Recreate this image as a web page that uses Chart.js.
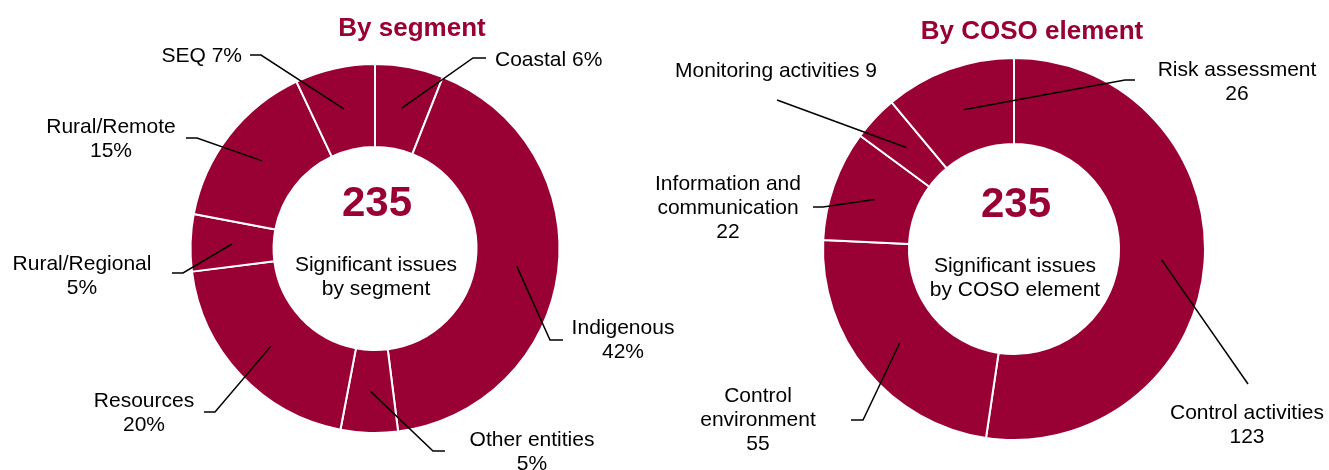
<!DOCTYPE html>
<html>
<head>
<meta charset="utf-8">
<script src="https://cdn.jsdelivr.net/npm/chart.js@4.4.0/dist/chart.umd.min.js"></script>
<style>
  html, body { margin: 0; padding: 0; background: #fff; }
  #wrap { position: relative; width: 1329px; height: 470px; overflow: hidden; }
  #wrap canvas { position: absolute; left: 0; top: 0; }
</style>
</head>
<body>
<div id="wrap">
  <canvas id="segChart" width="1329" height="470"></canvas>
  <canvas id="cosoChart" width="1329" height="470"></canvas>
</div>
<script>
// issues by segment (share of total, %)
const segmentNames = ['Coastal', 'Indigenous', 'Other entities', 'Resources', 'Rural/Regional', 'Rural/Remote', 'SEQ'];
const segmentShares = [6, 42, 5, 20, 5, 15, 7];

// issues by COSO element (count)
const cosoNames = ['Control activities', 'Control environment', 'Information and communication', 'Monitoring activities', 'Risk assessment'];
const cosoCounts = [123, 55, 22, 9, 26];

const totalIssues = 235;

const WINE = '#990033';
const FONT = "'Liberation Sans', Arial, sans-serif";
const LINE_H = 24;

// where each callout sits: text anchor, horizontal stub (a -> b), then a line into the slice
const segLayout = [
  { x: 495, y: 60,  align: 'left',   inline: true, a: [486, 58],  b: [473, 58] },
  { x: 623, y: 328, align: 'center', a: [563, 340], b: [550, 340] },
  { x: 532, y: 440, align: 'center', a: [445, 451], b: [433, 451] },
  { x: 144, y: 401, align: 'center', a: [204, 412], b: [215, 412] },
  { x: 82,  y: 264, align: 'center', a: [172, 273], b: [183, 273] },
  { x: 111, y: 127, align: 'center', a: [186, 138], b: [197, 138] },
  { x: 242, y: 56,  align: 'right',  inline: true, a: [250, 55],  b: [261, 55] }
];

const cosoLayout = [
  { x: 1247, y: 413, align: 'center', a: [1248, 384], b: [1248, 384] },
  { x: 758,  y: 396, align: 'center', wrap: ['Control', 'environment'], a: [851, 420], b: [863, 420] },
  { x: 728,  y: 184, align: 'center', wrap: ['Information and', 'communication'], a: [813, 207], b: [823, 207] },
  { x: 776,  y: 71,  align: 'center', inline: true, a: [777, 100], b: [777, 100] },
  { x: 1237, y: 70,  align: 'center', a: [1135, 80], b: [1125, 80] }
];

function calloutPlugin(opts) {
  return {
    id: 'callouts_' + opts.key,
    afterDatasetsDraw(chart) {
      const ctx = chart.ctx;
      const arcs = chart.getDatasetMeta(0).data;
      const labels = chart.data.labels;
      const values = chart.data.datasets[0].data;
      ctx.save();

      // leader lines
      ctx.strokeStyle = '#000';
      ctx.lineWidth = 1.5;
      arcs.forEach((arc, i) => {
        const L = opts.layout[i];
        const p = arc.tooltipPosition();
        ctx.beginPath();
        ctx.moveTo(L.a[0], L.a[1]);
        ctx.lineTo(L.b[0], L.b[1]);
        ctx.lineTo(p.x, p.y);
        ctx.stroke();
      });

      // callout text
      ctx.fillStyle = '#000';
      ctx.font = '21px ' + FONT;
      ctx.textBaseline = 'middle';
      arcs.forEach((arc, i) => {
        const L = opts.layout[i];
        const val = opts.fmt(values[i]);
        const lines = L.inline ? [labels[i] + ' ' + val]
                               : (L.wrap || [labels[i]]).concat([val]);
        ctx.textAlign = L.align;
        lines.forEach((t, k) => ctx.fillText(t, L.x, L.y + k * LINE_H));
      });

      // title
      ctx.fillStyle = WINE;
      ctx.font = 'bold 26px ' + FONT;
      ctx.textAlign = 'center';
      ctx.fillText(opts.title, opts.titleX, opts.titleY);

      // centre text
      const c = arcs[0];
      ctx.font = 'bold 42px ' + FONT;
      ctx.fillText(String(totalIssues), c.x + 2, c.y - 44);
      ctx.fillStyle = '#000';
      ctx.font = '21px ' + FONT;
      opts.centre.forEach((t, k) => ctx.fillText(t, c.x + 1, c.y + 17 + k * LINE_H));
      ctx.restore();
    }
  };
}

function donut(id, labels, values, padding, plugin) {
  return new Chart(document.getElementById(id), {
    type: 'doughnut',
    data: {
      labels: labels,
      datasets: [{
        data: values,
        backgroundColor: WINE,
        borderColor: '#fff',
        borderWidth: 2,
        hoverOffset: 0
      }]
    },
    options: {
      responsive: false,
      animation: false,
      cutout: '55%',
      layout: { padding: padding },
      plugins: { legend: { display: false }, tooltip: { enabled: false } },
      events: []
    },
    plugins: [plugin]
  });
}

donut('segChart', segmentNames, segmentShares,
  { left: 189, right: 768, top: 63, bottom: 36 },
  calloutPlugin({
    key: 'seg', layout: segLayout, fmt: v => v + '%',
    title: 'By segment', titleX: 412, titleY: 29,
    centre: ['Significant issues', 'by segment']
  }));

donut('cosoChart', cosoNames, cosoCounts,
  { left: 822, right: 123, top: 57, bottom: 29 },
  calloutPlugin({
    key: 'coso', layout: cosoLayout, fmt: v => String(v),
    title: 'By COSO element', titleX: 1032, titleY: 32,
    centre: ['Significant issues', 'by COSO element']
  }));
</script>
</body>
</html>
